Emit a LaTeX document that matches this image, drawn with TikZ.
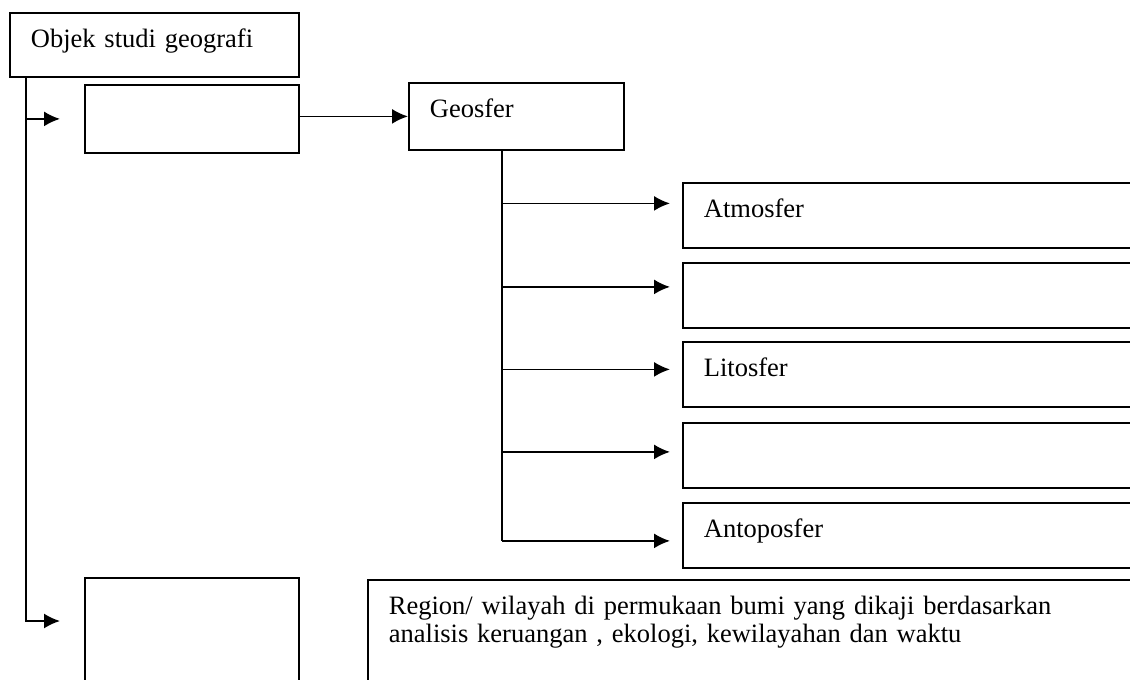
\documentclass[tikz,border=0pt]{standalone}
\usepackage{fontspec}
\setmainfont{Liberation Serif}
\usetikzlibrary{arrows.meta}
\tikzset{>={Latex[length=8pt,width=7.5pt]}}
\tikzset{
  box/.style={draw, anchor=north west, inner xsep=10.5pt, inner ysep=0pt,
    text height=17.5pt, align=left,
    font=\fontsize{13.25pt}{14pt}\selectfont},
}

\begin{document}
\begin{tikzpicture}[x=0.5pt, y=-0.5pt, line width=0.9pt]
        \useasboundingbox (0,0) rectangle (1130,680);
        \clip (0,0) rectangle (1130,680);

        \node[box, text width=123.5pt, text depth=14.5pt] (objek) at (9,12) {Objek studi geografi};
        \node[box, text width=86pt, text depth=16.5pt] (kotak1) at (84,84) {};
        \node[box, text width=86.5pt, text depth=16pt] (geosfer) at (408,82) {Geosfer};

        \node[box, text width=209pt, text depth=15pt] (atmos) at (682,182) {Atmosfer};
        \node[box, text width=209pt, text depth=15pt] (hidro) at (682,262) {};
        \node[box, text width=209pt, text depth=15pt] (lito) at (682,341) {Litosfer};
        \node[box, text width=209pt, text depth=15pt] (bio) at (682,422) {};
        \node[box, text width=209pt, text depth=15pt] (antro) at (682,502) {Antoposfer};

        \node[box, text width=86pt, text depth=54pt] (kotak2) at (84,577) {};
        \node[box, text width=379pt, text depth=53pt] (region) at (367,579)
            {\parbox[t]{379pt}{Region/ wilayah di permukaan bumi yang dikaji berdasarkan\\
             analisis keruangan , ekologi, kewilayahan dan waktu}};

        \coordinate (trunk) at (26,0);
        \coordinate (stem) at (502,0);
        \coordinate (ujung) at (60,621);

        % cabang kiri
        \draw[->] (objek.south -| trunk) |- (ujung);
        \draw[->] (kotak1.west -| trunk) -- ([xshift=-12pt]kotak1.west);
        \draw[->] (geosfer.west -| kotak1.east) -- (geosfer.west);

        % cabang geosfer
        \draw (geosfer.south -| stem) -- ([yshift=-2.75pt]antro.west -| stem);
        \foreach \b/\dy in {atmos/6pt, hidro/4.25pt, lito/2.5pt, bio/1.75pt, antro/-2.75pt}
            \draw[->] ([yshift=\dy]\b.west -| stem) -- ([yshift=\dy, xshift=-6pt]\b.west);
    \end{tikzpicture}
\end{document}
